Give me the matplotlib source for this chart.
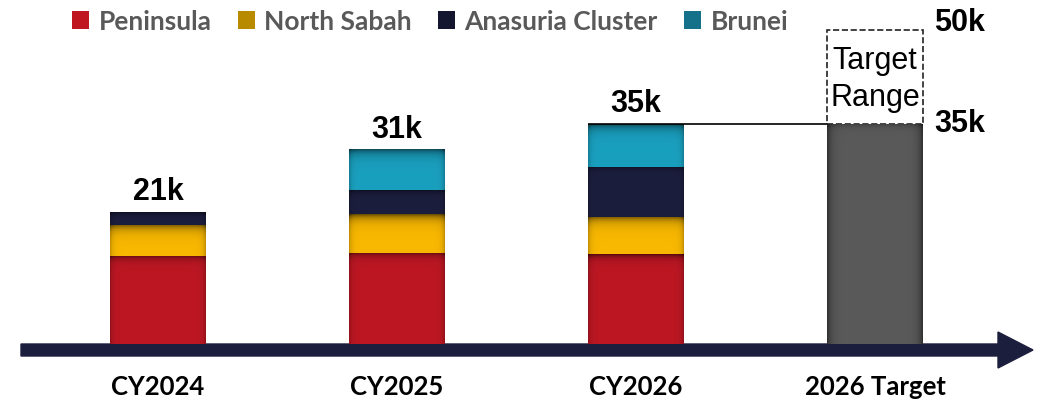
import numpy as np
import matplotlib
matplotlib.use("Agg")
import matplotlib.pyplot as plt
from matplotlib.patches import Patch, FancyArrow
from matplotlib.colors import to_rgb

# Data (values in thousands)
categories = ["CY2024", "CY2025", "CY2026", "2026 Target"]
series_names = ["Peninsula", "North Sabah", "Anasuria Cluster", "Brunei"]
peninsula = [14.0, 14.5, 14.3]
north_sabah = [5.0, 6.2, 5.9]
anasuria = [2.0, 3.8, 8.0]
brunei = [0.0, 6.5, 6.8]
totals = [21, 31, 35]
target_low = 35
target_high = 50

# Colours
series_colors = ["#BC1723", "#F9B800", "#1C1E3E", "#1AA0BF"]
legend_colors = ["#C0161F", "#B88A00", "#14162F", "#15708A"]
target_color = "#5A5A5A"
navy = "#1C1E3E"
grey_text = "#595959"

# Layout (pixel mapping of the 1061x402 canvas)
W_PX, H_PX = 1061, 402
X0_PX, X_STEP = 158, 239      # pixel of first category, pixels per category
BASE_PX, PX_PER_K = 345, 6.286  # pixel row of zero, pixels per 1k


def px_x(p):
    return (p - X0_PX) / X_STEP


def px_y(p):
    return (BASE_PX - p) / PX_PER_K


def add_shade(ax, rect, color, top_px=3.5, top_amt=0.45, side_px=2.5, side_amt=0.2):
    x0, y0 = rect.get_xy()
    w, h = rect.get_width(), rect.get_height()
    if h <= 0:
        return
    wp, hp = w * X_STEP, h * PX_PER_K
    xs = np.linspace(0, wp, max(int(wp), 2))
    ys = np.linspace(0, hp, max(int(hp), 2))
    dx = np.minimum(xs, wp - xs)
    shade = 1 - top_amt * np.exp(-ys / top_px)[:, None] - side_amt * np.exp(-dx / side_px)[None, :]
    shade = np.clip(shade, 0, 1)
    img = shade[:, :, None] * np.array(to_rgb(color))
    im = ax.imshow(img, extent=(x0, x0 + w, y0, y0 + h), origin="upper", aspect="auto",
                   interpolation="bilinear", zorder=rect.get_zorder() + 0.1)
    im.set_clip_path(rect)


fig = plt.figure(figsize=(W_PX / 100, H_PX / 100), dpi=100)
ax = fig.add_axes([0, 0, 1, 1])
ax.axis("off")

x = np.arange(len(categories))
width = 0.40
bottoms = np.zeros(3)
shade_params = [dict(top_px=3.5, top_amt=0.5), dict(top_px=5, top_amt=0.55),
                dict(top_px=3.0, top_amt=0.4), dict(top_px=5, top_amt=0.5)]
for vals, color, sp in zip([peninsula, north_sabah, anasuria, brunei], series_colors, shade_params):
    bars = ax.bar(x[:3], vals, width, bottom=bottoms, color=color, zorder=2)
    for b in bars:
        add_shade(ax, b, color, **sp)
    bottoms += np.array(vals)

# target bar and range box
tbar = ax.bar(x[3], target_low, width, color=target_color, zorder=2)
add_shade(ax, tbar[0], target_color, top_px=3, top_amt=0.35, side_px=4, side_amt=0.45)
ax.bar(x[3], target_high - target_low, width, bottom=target_low, fill=False,
       linestyle="--", linewidth=1.2, edgecolor="#222222", zorder=2)
ax.text(x[3], (target_low + target_high) / 2 - 0.2, "Target\nRange", ha="center", va="center",
        fontsize=22, family="Liberation Sans", linespacing=1.3, color="black")
ax.hlines(totals[2], x[2] - width / 2, x[3] - width / 2, color="black", linewidth=1.2, zorder=3)

# total labels
for xi, t in zip(x[:3], totals):
    ax.annotate(f"{t}k", (xi, t), xytext=(0, 9), textcoords="offset points",
                ha="center", va="baseline", fontsize=22, fontweight="bold",
                family="Liberation Sans")
ax.annotate(f"{target_high}k", (x[3] + width / 2, target_high), xytext=(8, 0),
            textcoords="offset points", ha="left", va="baseline", fontsize=22,
            fontweight="bold", family="Liberation Sans")
ax.annotate(f"{target_low}k", (x[3] + width / 2, target_low), xytext=(8, -5),
            textcoords="offset points", ha="left", va="baseline", fontsize=22,
            fontweight="bold", family="Liberation Sans")

# timeline arrow
arrow = FancyArrow(px_x(21), px_y(351), px_x(1033) - px_x(21), 0,
                   width=12 / PX_PER_K, head_width=36 / PX_PER_K,
                   head_length=(1033 - 998) / X_STEP, length_includes_head=True,
                   color=navy, zorder=1)
ax.add_patch(arrow)

# category labels
for xi, c in zip(x, categories):
    ax.text(xi, px_y(387), c, ha="center", va="center", fontsize=18.5, fontweight="bold",
            family="Lato", color="black")

# legend
handles = [Patch(facecolor=c, edgecolor="none", label=n) for n, c in zip(series_names, legend_colors)]
leg = fig.legend(handles=handles, ncol=4, loc="center left", bbox_to_anchor=(72 / W_PX, 1 - 22 / H_PX),
                 frameon=False, borderpad=0, borderaxespad=0, handlelength=0.65, handleheight=0.65,
                 handletextpad=0.35, columnspacing=1.0,
                 prop=dict(family="Lato", weight="bold", size=19))
for t in leg.get_texts():
    t.set_color(grey_text)

ax.set_xlim(px_x(0), px_x(W_PX))
ax.set_ylim(px_y(H_PX), px_y(0))

fig.savefig("out.png", dpi=100)
